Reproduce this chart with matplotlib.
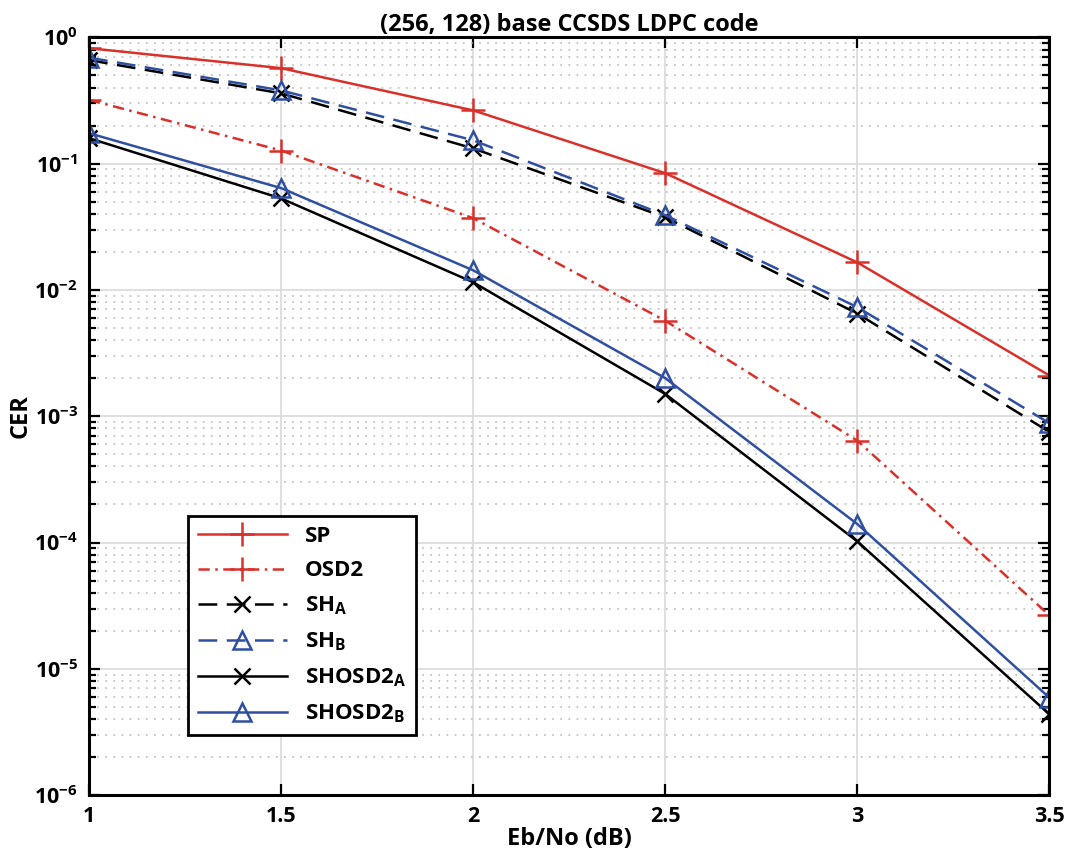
import matplotlib
matplotlib.use('Agg')
import matplotlib.pyplot as plt
from matplotlib.ticker import FixedLocator, LogLocator, NullFormatter

plt.rcParams['font.family'] = ['Open Sans', 'DejaVu Sans']
plt.rcParams['font.weight'] = 'bold'
plt.rcParams['axes.labelweight'] = 'bold'
plt.rcParams['axes.titleweight'] = 'bold'
plt.rcParams['mathtext.fontset'] = 'custom'
plt.rcParams['mathtext.rm'] = 'Open Sans:bold'
plt.rcParams['mathtext.default'] = 'regular'

ebno = [1, 1.5, 2, 2.5, 3, 3.5]
xtick_labels = ['1', '1.5', '2', '2.5', '3', '3.5']
ytick_values = [1e-6, 1e-5, 1e-4, 1e-3, 1e-2, 1e-1, 1e0]

sp = [0.82, 0.57, 0.264, 0.084, 0.0165, 0.0021]
osd2 = [0.32, 0.127, 0.037, 0.0057, 6.4e-4, 2.65e-5]
sh_a = [0.66, 0.36, 0.132, 0.0376, 0.0065, 7.5e-4]
sh_b = [0.69, 0.38, 0.153, 0.039, 0.0073, 8.8e-4]
shosd2_a = [0.159, 0.053, 0.0115, 0.0015, 1.02e-4, 4.36e-6]
shosd2_b = [0.174, 0.064, 0.0143, 0.0020, 1.4e-4, 5.9e-6]

red = '#D9302A'
blue = '#2F4FA0'
lw = 1.8

fig = plt.figure(figsize=(10.73, 8.68), dpi=100)
ax = fig.add_axes((0.083, 0.084, 0.895, 0.873))

ax.plot(ebno, sp, color=red, lw=lw, marker='+', ms=17, mew=lw, label='SP')
ax.plot(ebno, osd2, color=red, lw=lw, marker='+', ms=17, mew=lw,
        dashes=(4.5, 2.2, 1, 2.2), label='OSD2')
ax.plot(ebno, sh_a, color='black', lw=lw, marker='x', ms=12, mew=lw,
        dashes=(7.5, 3.8), label='SH$_{A}$')
ax.plot(ebno, sh_b, color=blue, lw=lw, marker='^', ms=13, mew=lw, mfc='none',
        dashes=(7.5, 3.8), label='SH$_{B}$')
ax.plot(ebno, shosd2_a, color='black', lw=lw, marker='x', ms=12, mew=lw,
        label='SHOSD2$_{A}$')
ax.plot(ebno, shosd2_b, color=blue, lw=lw, marker='^', ms=13, mew=lw, mfc='none',
        label='SHOSD2$_{B}$')

ax.set_yscale('log')
ax.set_xlim(1, 3.5)
ax.set_ylim(1e-6, 1)
ax.set_xticks(ebno)
ax.set_xticklabels(xtick_labels)
ax.yaxis.set_major_locator(FixedLocator(ytick_values))
ax.yaxis.set_minor_locator(LogLocator(base=10, subs=range(2, 10), numticks=100))
ax.yaxis.set_minor_formatter(NullFormatter())

ax.grid(True, which='major', color='#dcdcdc', lw=1.3, ls='-')
ax.grid(True, which='minor', axis='y', color='#c4c4c4', lw=1.3, ls=(0, (1, 3.5)))
ax.set_axisbelow(True)

for s in ax.spines.values():
    s.set_linewidth(2.2)
ax.tick_params(which='both', direction='in', top=True, right=True, width=1.6,
               labelsize=15.5, pad=8)
ax.tick_params(which='major', length=8)
ax.tick_params(which='minor', length=5)

ax.set_xlabel('Eb/No (dB)', fontsize=17, labelpad=0)
ax.set_ylabel('CER', fontsize=17, labelpad=1)
ax.set_title('(256, 128) base CCSDS LDPC code', fontsize=17, pad=4)

leg = ax.legend(loc='lower left', bbox_to_anchor=(0.103, 0.079), fontsize=16,
                handlelength=4.0, fancybox=False, edgecolor='black',
                framealpha=1, borderpad=0.45, labelspacing=0.6,
                borderaxespad=0)
leg.get_frame().set_linewidth(2)

fig.savefig('out.png', dpi=100)
